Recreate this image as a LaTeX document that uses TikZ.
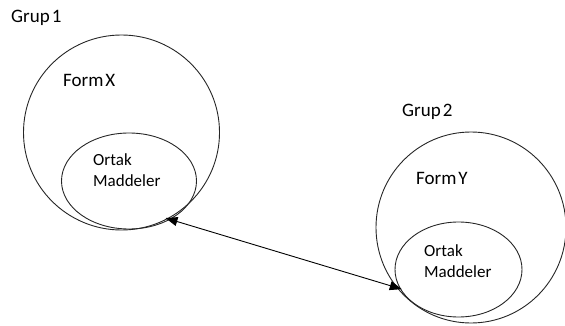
\documentclass[tikz,border=0pt]{standalone}
\usepackage{fontspec}
\setmainfont{Carlito}
\usetikzlibrary{shapes.geometric,arrows.meta}
\newcommand{\tightsp}{\spaceskip=2pt\relax}
\begin{document}
\begin{tikzpicture}[x=1pt,y=-1pt,
  lbl/.style={anchor=base west,inner sep=0pt,font=\fontsize{19}{23}\selectfont\tightsp},
  sub/.style={anchor=base west,inner sep=0pt,font=\fontsize{17}{21}\selectfont},
  ring/.style={draw=black!85,line width=0.9pt,ellipse,inner sep=0pt},
  link/.style={line width=0.9pt,{Triangle[length=12pt,width=9pt]}-{Triangle[length=12pt,width=9pt]}}]
\useasboundingbox (0,0) rectangle (565,326);
% group 1
\node[ring,minimum width=196pt,minimum height=195pt] (o1) at (121.5,132.5) {};
\node[ring,minimum width=135pt,minimum height=96pt] (i1) at (129,181) {};
\node[lbl] (g1) at (11,23) {Grup 1};
\node[lbl] (f1) at (63,87) {Form X};
\node[sub] (t1a) at (93,165) {Ortak};
\node[sub] (t1b) at (93,186) {Maddeler};
% group 2
\node[ring,minimum width=190pt,minimum height=191pt] (o2) at (471,227.5) {};
\node[ring,minimum width=127pt,minimum height=95pt] (i2) at (458.5,269.5) {};
\node[lbl] (g2) at (402,117) {Grup 2};
\node[lbl] (f2) at (416,185) {Form Y};
\node[sub] (t2a) at (424,256) {Ortak};
\node[sub] (t2b) at (424,277) {Maddeler};
% connector
\draw[link,shorten <=-5pt,shorten >=-2pt] (i1.-43) -- (i2.-162);
\end{tikzpicture}
\end{document}
